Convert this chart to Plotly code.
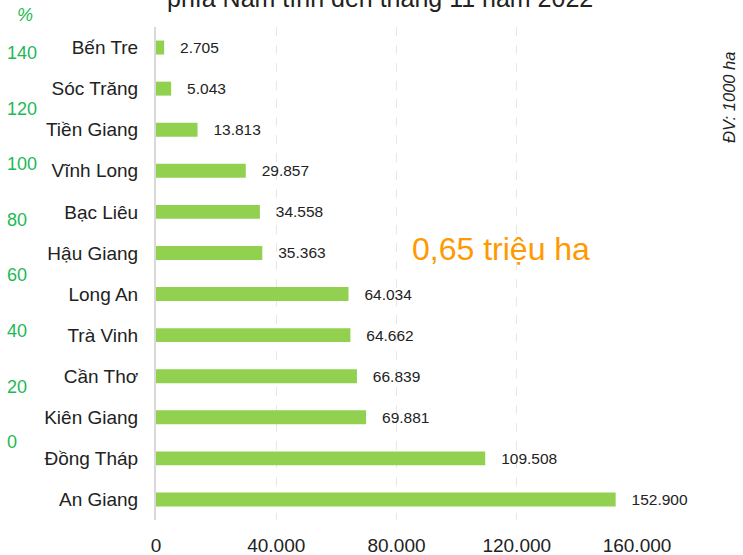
import plotly.graph_objects as go

provinces = ["Bến Tre", "Sóc Trăng", "Tiền Giang", "Vĩnh Long", "Bạc Liêu", "Hậu Giang",
             "Long An", "Trà Vinh", "Cần Thơ", "Kiên Giang", "Đồng Tháp", "An Giang"]
area_ha = [2705, 5043, 13813, 29857, 34558, 35363, 64034, 64662, 66839, 69881, 109508, 152900]
x_ticks = [0, 40000, 80000, 120000, 160000]
pct_ticks = [0, 20, 40, 60, 80, 100, 120, 140]

title_text = "phía Nam tính đến tháng 11 năm 2022"
total_text = "0,65 triệu ha"
unit_text = "ĐV: 1000 ha"

W, H = 743, 555
L, R, T, B = 4, 106, 27, 35
pw = W - L - R
ph = H - T - B
x0_px = 156
dom_start = (x0_px - L) / pw

cats = provinces[::-1]
vals = area_ha[::-1]

fig = go.Figure()
fig.add_trace(go.Bar(
    x=vals, y=cats, orientation="h",
    marker=dict(color="#92d050", line=dict(width=0)),
    width=0.34,
    text=vals,
    texttemplate="\u00a0\u00a0\u00a0%{x:,}",
    textposition="outside",
    constraintext="none",
    textfont=dict(size=15.5, color="#222222", family="Arial, Liberation Sans, sans-serif"),
    cliponaxis=False,
    showlegend=False,
    hoverinfo="skip",
))
# invisible trace for the secondary % axis
fig.add_trace(go.Scatter(x=[0, 0], y=[0, 140], yaxis="y2", mode="markers",
                         marker=dict(opacity=0), showlegend=False, hoverinfo="skip"))

font_fam = "Arial, Liberation Sans, sans-serif"
fig.update_layout(
    width=W, height=H,
    margin=dict(l=L, r=R, t=T, b=B, autoexpand=False),
    paper_bgcolor="white", plot_bgcolor="white",
    separators=",.",
    font=dict(family=font_fam, color="#222222"),
    xaxis=dict(
        domain=[dom_start, 1], range=[0, 160000],
        tickvals=x_ticks, tickformat=",",
        tickfont=dict(size=19, color="#222222"),
        showgrid=True, gridcolor="#e6e6e6", griddash="dash", gridwidth=1,
        zeroline=False, showline=False,
        ticks="outside", ticklen=0, ticklabelstandoff=8,
        automargin=False, fixedrange=True,
    ),
    yaxis=dict(
        type="category", categoryorder="array", categoryarray=cats,
        range=[-0.5, 11.5],
        tickfont=dict(size=19, color="#222222"),
        showgrid=False, zeroline=False,
        showline=True, linecolor="#d9d9d9", linewidth=2,
        ticks="", ticklabelstandoff=12,
        automargin=False, fixedrange=True,
    ),
    yaxis2=dict(
        overlaying="y", anchor="free", position=0, side="right",
        range=[-28.1, 149.3],
        tickvals=pct_ticks,
        tickfont=dict(size=18, color="#1db954"),
        showgrid=False, zeroline=False, showline=False,
        ticks="", ticklabelstandoff=2,
        automargin=False, fixedrange=True,
    ),
    annotations=[
        dict(text=title_text, xref="paper", yref="paper", x=(380 - L) / pw, y=1 + (27 - 14) / ph,
             xanchor="center", yanchor="bottom", showarrow=False,
             font=dict(size=25, color="#222222", family=font_fam)),
        dict(text=total_text, xref="paper", yref="paper", x=(501 - L) / pw, y=(H - B - 249) / ph,
             xanchor="center", yanchor="middle", showarrow=False,
             font=dict(size=32, color="#ff9900", family=font_fam)),
        dict(text=unit_text, xref="paper", yref="paper", x=(729 - L) / pw, y=(H - B - 98) / ph,
             xanchor="center", yanchor="middle", showarrow=False, textangle=-90,
             font=dict(size=16.5, color="#222222", family=font_fam, style="italic")),
        dict(text="%", xref="paper", yref="paper", x=(25 - L) / pw, y=(H - B - 15) / ph,
             xanchor="center", yanchor="middle", showarrow=False,
             font=dict(size=18, color="#1db954", family=font_fam, style="italic")),
    ],
)

fig.write_html(
    "out.html",
    config={"displayModeBar": False},
    post_script="document.body.style.margin='0px';document.body.style.padding='0px';document.body.style.overflow='hidden';",
)
